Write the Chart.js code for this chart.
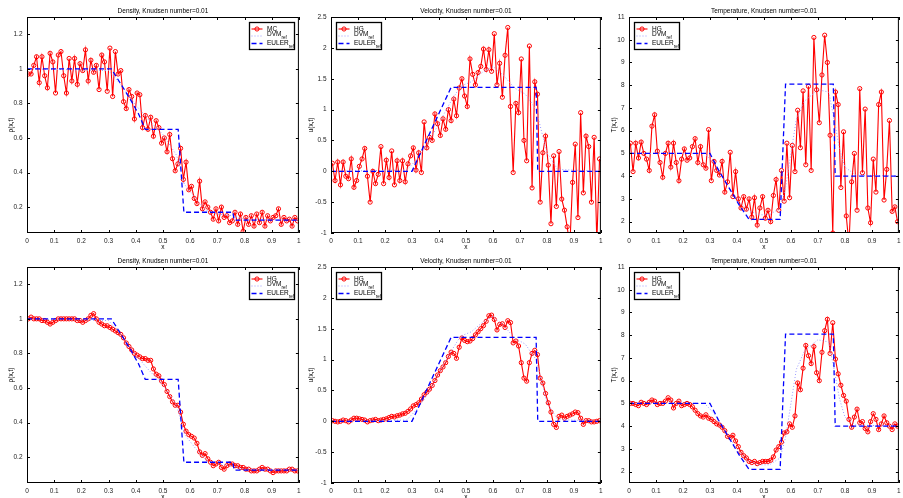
<!DOCTYPE html>
<html>
<head>
<meta charset="utf-8">
<script src="https://cdn.jsdelivr.net/npm/chart.js@4.4.0/dist/chart.umd.min.js"></script>
<style>
  html, body { margin: 0; padding: 0; background: #fff; overflow: hidden; }
  body { width: 903px; height: 498px; position: relative; }
  .panel { position: absolute; height: 252px; }
</style>
</head>
<body>
<div class="panel" style="left:0px;top:0px;width:305px"><canvas id="c1"></canvas></div>
<div class="panel" style="left:305px;top:0px;width:302px"><canvas id="c2"></canvas></div>
<div class="panel" style="left:604px;top:0px;width:301px"><canvas id="c3"></canvas></div>
<div class="panel" style="left:0px;top:250px;width:305px"><canvas id="c4"></canvas></div>
<div class="panel" style="left:305px;top:250px;width:302px"><canvas id="c5"></canvas></div>
<div class="panel" style="left:604px;top:250px;width:301px"><canvas id="c6"></canvas></div>
<script>
// cell centres of the 100-cell grid
const xGrid = [
  0.005, 0.015, 0.025, 0.035, 0.045, 0.055, 0.065, 0.075, 0.085, 0.095,
  0.105, 0.115, 0.125, 0.135, 0.145, 0.155, 0.165, 0.175, 0.185, 0.195,
  0.205, 0.215, 0.225, 0.235, 0.245, 0.255, 0.265, 0.275, 0.285, 0.295,
  0.305, 0.315, 0.325, 0.335, 0.345, 0.355, 0.365, 0.375, 0.385, 0.395,
  0.405, 0.415, 0.425, 0.435, 0.445, 0.455, 0.465, 0.475, 0.485, 0.495,
  0.505, 0.515, 0.525, 0.535, 0.545, 0.555, 0.565, 0.575, 0.585, 0.595,
  0.605, 0.615, 0.625, 0.635, 0.645, 0.655, 0.665, 0.675, 0.685, 0.695,
  0.705, 0.715, 0.725, 0.735, 0.745, 0.755, 0.765, 0.775, 0.785, 0.795,
  0.805, 0.815, 0.825, 0.835, 0.845, 0.855, 0.865, 0.875, 0.885, 0.895,
  0.905, 0.915, 0.925, 0.935, 0.945, 0.955, 0.965, 0.975, 0.985, 0.995
];

// top row: Monte Carlo / noisy HG
const rhoMC = [
  0.97, 0.97, 1.02, 1.07, 0.92, 1.07, 0.96, 0.89, 1.09, 1.04,
  0.86, 1.08, 1.10, 0.96, 0.86, 1.06, 0.93, 1.06, 0.91, 1.03,
  0.99, 1.11, 0.93, 1.05, 0.98, 1.02, 0.88, 1.08, 1.04, 0.87,
  1.12, 0.84, 1.10, 0.97, 0.99, 0.81, 0.77, 0.88, 0.84, 0.71,
  0.86, 0.85, 0.66, 0.73, 0.65, 0.72, 0.61, 0.70, 0.66, 0.57,
  0.60, 0.52, 0.62, 0.48, 0.41, 0.45, 0.54, 0.36, 0.46, 0.30,
  0.32, 0.25, 0.22, 0.35, 0.19, 0.23, 0.20, 0.17, 0.13, 0.19,
  0.12, 0.20, 0.14, 0.15, 0.11, 0.12, 0.17, 0.10, 0.16, 0.06,
  0.14, 0.10, 0.15, 0.09, 0.16, 0.11, 0.17, 0.09, 0.15, 0.12,
  0.14, 0.15, 0.19, 0.10, 0.14, 0.12, 0.13, 0.09, 0.14, 0.12
];
const uHGnoisy = [
  0.13, -0.15, 0.15, -0.22, 0.15, -0.08, -0.12, 0.20, -0.26, -0.15,
  0.08, 0.20, 0.37, -0.08, -0.50, 0.00, -0.20, -0.05, 0.40, -0.20,
  0.18, -0.10, 0.33, -0.22, 0.17, -0.15, 0.17, -0.17, 0.12, 0.25,
  0.38, 0.02, 0.30, -0.02, 0.80, 0.38, 0.55, 0.50, 0.93, 0.77,
  0.58, 0.85, 0.68, 1.00, 0.82, 1.17, 0.90, 1.35, 1.50, 1.22,
  1.05, 1.82, 1.57, 1.40, 1.60, 1.70, 1.98, 1.65, 1.97, 1.62,
  2.23, 1.40, 1.75, 1.20, 1.88, 2.33, 1.05, -0.02, 1.10, 0.95,
  1.82, 0.50, 0.17, 2.03, -0.27, 1.45, 1.25, -0.50, 0.30, 0.57,
  0.10, -0.85, 0.25, -0.57, 0.32, -0.45, -0.63, -0.90, -1.20, -0.18,
  0.44, -0.75, 0.95, -0.35, 0.57, 0.40, -0.50, 0.55, -1.15, 0.20
];
const tHGnoisy = [
  5.45, 4.20, 5.45, 4.80, 5.50, 5.00, 4.75, 4.25, 6.20, 6.70,
  5.10, 4.60, 3.95, 5.00, 5.45, 4.40, 5.45, 4.60, 3.80, 4.75,
  5.20, 4.70, 4.80, 5.30, 5.65, 4.60, 5.30, 4.50, 4.35, 6.05,
  3.80, 4.65, 4.25, 4.05, 4.65, 3.30, 3.75, 5.05, 3.10, 4.20,
  3.00, 2.60, 3.10, 2.55, 3.00, 2.20, 3.05, 1.85, 2.60, 3.10,
  2.15, 2.50, 2.00, 3.15, 3.85, 2.50, 4.25, 2.90, 5.45, 3.05,
  5.35, 4.20, 6.90, 5.25, 7.75, 4.50, 7.95, 4.25, 10.10, 7.80,
  6.35, 8.45, 10.20, 9.00, 5.80, 1.50, 7.70, 7.15, 3.50, 5.95,
  2.25, 1.00, 3.75, 5.00, 2.50, 7.85, 4.15, 6.95, 2.60, 1.95,
  4.75, 3.30, 7.15, 7.70, 2.95, 4.30, 6.45, 2.45, 2.65, 2.00
];

// bottom row: smoothed HG
const rhoHG = [
  1.00, 1.01, 1.00, 1.00, 1.00, 0.99, 0.99, 0.98, 0.97, 0.98,
  0.99, 1.00, 1.00, 1.00, 1.00, 1.00, 1.00, 1.00, 0.99, 0.99,
  0.98, 0.99, 1.00, 1.02, 1.03, 1.00, 0.98, 0.97, 0.96, 0.96,
  0.95, 0.94, 0.93, 0.92, 0.91, 0.89, 0.86, 0.84, 0.82, 0.80,
  0.79, 0.78, 0.77, 0.77, 0.76, 0.76, 0.71, 0.68, 0.67, 0.64,
  0.62, 0.58, 0.55, 0.52, 0.50, 0.50, 0.46, 0.39, 0.35, 0.33,
  0.32, 0.31, 0.28, 0.23, 0.21, 0.22, 0.19, 0.17, 0.15, 0.16,
  0.17, 0.14, 0.13, 0.15, 0.16, 0.16, 0.15, 0.15, 0.14, 0.14,
  0.13, 0.13, 0.12, 0.12, 0.12, 0.13, 0.14, 0.13, 0.13, 0.12,
  0.11, 0.12, 0.12, 0.12, 0.12, 0.12, 0.13, 0.13, 0.12, 0.12
];
const uHG = [
  0.01, 0.00, -0.01, 0.00, 0.02, 0.01, -0.01, 0.02, 0.05, 0.05,
  0.04, 0.03, 0.02, -0.01, 0.01, 0.02, 0.03, 0.01, 0.02, 0.03,
  0.04, 0.06, 0.08, 0.07, 0.09, 0.10, 0.12, 0.13, 0.16, 0.20,
  0.25, 0.27, 0.30, 0.36, 0.43, 0.47, 0.52, 0.58, 0.66, 0.75,
  0.82, 0.88, 0.95, 1.05, 1.12, 1.10, 1.02, 1.20, 1.35, 1.31,
  1.29, 1.30, 1.34, 1.40, 1.45, 1.50, 1.55, 1.62, 1.71, 1.72,
  1.65, 1.48, 1.57, 1.58, 1.52, 1.63, 1.60, 1.27, 1.30, 1.22,
  0.95, 0.70, 0.65, 0.95, 1.10, 1.15, 1.08, 0.70, 0.62, 0.45,
  0.30, 0.15, -0.05, -0.10, 0.08, 0.10, 0.05, 0.08, 0.10, 0.12,
  0.15, 0.14, 0.05, -0.05, 0.01, 0.01, -0.01, -0.01, 0.00, 0.01
];
const tHG = [
  5.00, 5.00, 4.95, 4.90, 5.05, 5.00, 4.95, 5.05, 5.15, 5.10,
  4.95, 5.00, 5.00, 5.10, 5.25, 5.15, 4.80, 5.00, 5.10, 4.90,
  4.95, 5.00, 4.95, 4.85, 4.70, 4.55, 4.45, 4.40, 4.50, 4.35,
  4.30, 4.20, 4.10, 4.05, 3.95, 3.80, 3.55, 3.50, 3.60, 3.35,
  3.10, 2.85, 2.70, 2.60, 2.45, 2.40, 2.45, 2.35, 2.40, 2.45,
  2.45, 2.45, 2.50, 2.65, 2.95, 3.10, 3.30, 3.70, 3.75, 4.10,
  3.95, 4.45, 5.90, 5.60, 6.55, 7.55, 7.10, 6.75, 7.50, 6.35,
  6.00, 7.25, 8.20, 8.70, 7.20, 8.55, 6.95, 6.30, 5.80, 5.35,
  5.10, 4.30, 3.95, 4.40, 4.75, 4.15, 4.20, 3.90, 3.75, 4.20,
  4.55, 4.30, 3.85, 4.10, 4.45, 4.15, 4.00, 3.85, 4.10, 4.00
];

// reference solutions
const dvmRhoX = [0, 0.30, 0.35, 0.40, 0.45, 0.50, 0.55, 0.58, 0.62, 0.66, 0.70, 0.76, 0.80, 1];
const dvmRhoY = [1, 0.99, 0.90, 0.79, 0.70, 0.62, 0.50, 0.33, 0.25, 0.18, 0.16, 0.15, 0.13, 0.125];
const dvmUX = [0, 0.28, 0.32, 0.36, 0.40, 0.44, 0.48, 0.52, 0.56, 0.60, 0.64, 0.68, 0.72, 0.76, 0.80, 0.84, 1];
const dvmUY = [0, 0.02, 0.20, 0.45, 0.78, 1.10, 1.38, 1.45, 1.60, 1.70, 1.55, 1.35, 1.25, 1.00, 0.30, 0.03, 0];
const dvmTX = [0, 0.28, 0.32, 0.36, 0.40, 0.44, 0.48, 0.52, 0.56, 0.58, 0.60, 0.62, 0.65, 0.70, 0.74, 0.76, 0.78, 0.80, 0.84, 1];
const dvmTY = [5, 5, 4.5, 3.7, 3.0, 2.5, 2.3, 2.3, 2.6, 3.5, 5.0, 6.5, 7.3, 7.8, 7.7, 6.5, 5.2, 4.4, 4.05, 4];

const eulerRhoX = [0, 0.31, 0.35, 0.385, 0.41, 0.435, 0.556, 0.577, 0.757, 0.762, 1];
const eulerRhoY = [1, 1, 0.90, 0.81, 0.74, 0.65, 0.65, 0.17, 0.17, 0.125, 0.125];
const eulerUX = [0, 0.30, 0.445, 0.760, 0.766, 1];
const eulerUY = [0, 0, 1.36, 1.36, 0, 0];
const eulerTX = [0, 0.30, 0.33, 0.37, 0.41, 0.445, 0.560, 0.580, 0.757, 0.764, 1];
const eulerTY = [5, 5, 4.3, 3.5, 2.7, 2.1, 2.1, 8.05, 8.05, 4, 4];

// axes
const xTicks = [0, 0.1, 0.2, 0.3, 0.4, 0.5, 0.6, 0.7, 0.8, 0.9, 1];
const rhoTicks = [0.2, 0.4, 0.6, 0.8, 1, 1.2];
const uTicks = [-1, -0.5, 0, 0.5, 1, 1.5, 2, 2.5];
const tTicks = [2, 3, 4, 5, 6, 7, 8, 9, 10, 11];

const titles = ['Density, Knudsen number=0.01', 'Velocity, Knudsen number=0.01', 'Temperature, Knudsen number=0.01'];
const yNames = ['\u03c1(x,t)', 'u(x,t)', 'T(x,t)'];

const FONT = 'Liberation Sans, Arial, Helvetica, sans-serif';

function pairs(xs, ys) {
  return xs.map((x, i) => ({ x: x, y: ys[i] }));
}

// MATLAB-style box, inward ticks and legend
const matlabFrame = {
  id: 'matlabFrame',
  afterDatasetsDraw(chart, args, opts) {
    const { ctx, chartArea: a, scales: { x, y } } = chart;
    ctx.save();
    ctx.strokeStyle = '#000';
    ctx.lineWidth = 1;
    ctx.setLineDash([]);
    ctx.strokeRect(a.left + 0.5, a.top + 0.5, a.width - 1, a.height - 1);
    ctx.beginPath();
    x.ticks.forEach(t => {
      const px = Math.round(x.getPixelForValue(t.value)) + 0.5;
      ctx.moveTo(px, a.bottom); ctx.lineTo(px, a.bottom - 3);
      ctx.moveTo(px, a.top); ctx.lineTo(px, a.top + 3);
    });
    y.ticks.forEach(t => {
      const py = Math.round(y.getPixelForValue(t.value)) + 0.5;
      ctx.moveTo(a.left, py); ctx.lineTo(a.left + 3, py);
      ctx.moveTo(a.right, py); ctx.lineTo(a.right - 3, py);
    });
    ctx.stroke();

    // legend
    const w = 45, h = 27;
    const bx = Math.round(opts.side === 'right' ? a.right - 5 - w : a.left + 5) + 0.5;
    const by = Math.round(a.top + 5) + 0.5;
    ctx.fillStyle = '#fff';
    ctx.fillRect(bx, by, w, h);
    ctx.lineWidth = 1.3;
    ctx.strokeRect(bx, by, w, h);
    const rows = [6.5, 13.5, 21];
    const textRows = [6.5, 11.5, 20.5];
    chart.data.datasets.forEach((ds, i) => {
      const ly = by + rows[i];
      ctx.beginPath();
      ctx.strokeStyle = ds.borderColor;
      ctx.lineWidth = ds.borderWidth;
      ctx.setLineDash(ds.borderDash || []);
      ctx.moveTo(bx + 2, ly);
      ctx.lineTo(bx + 13, ly);
      ctx.stroke();
      ctx.setLineDash([]);
      if (ds.pointRadius) {
        ctx.beginPath();
        ctx.lineWidth = ds.pointBorderWidth;
        ctx.arc(bx + 7.5, ly, ds.pointRadius, 0, Math.PI * 2);
        ctx.stroke();
      }
      ctx.fillStyle = '#000';
      ctx.textAlign = 'left';
      ctx.textBaseline = 'middle';
      ctx.font = '6.5px ' + FONT;
      const ty = by + textRows[i];
      ctx.fillText(ds.label, bx + 17.5, ty);
      if (ds.sub) {
        const tw = ctx.measureText(ds.label).width;
        ctx.font = '4.5px ' + FONT;
        ctx.fillText(ds.sub, bx + 17.5 + tw, ty + 3.3);
      }
    });
    ctx.restore();
  }
};

function makePanel(id, opt) {
  const padL = opt.padL;
  return new Chart(document.getElementById(id), {
    type: 'line',
    data: {
      datasets: [
        {
          label: opt.name,
          data: pairs(xGrid, opt.values),
          borderColor: '#ff0000',
          borderWidth: 1.1,
          pointRadius: 2.1,
          pointBorderWidth: 1,
          pointBorderColor: '#ff0000',
          pointBackgroundColor: 'rgba(0,0,0,0)',
          tension: 0,
          order: 3
        },
        {
          label: 'DVM',
          sub: 'ref',
          data: pairs(opt.dvmX, opt.dvmY),
          borderColor: '#9a9aff',
          borderWidth: 1,
          borderDash: [1, 2],
          pointRadius: 0,
          tension: 0,
          order: 2
        },
        {
          label: 'EULER',
          sub: 'ref',
          data: pairs(opt.eulX, opt.eulY),
          borderColor: '#0000ff',
          borderWidth: 1.3,
          borderDash: [5, 3],
          pointRadius: 0,
          tension: 0,
          order: 1
        }
      ]
    },
    options: {
      responsive: true,
      maintainAspectRatio: false,
      animation: false,
      events: [],
      layout: { autoPadding: false, padding: { top: 0, right: 3, left: 0, bottom: 0 } },
      plugins: {
        legend: { display: false },
        tooltip: { enabled: false },
        title: {
          display: true,
          text: opt.title,
          fullSize: false,
          color: '#000',
          font: { family: FONT, size: 6.5, weight: 'normal', lineHeight: 1.2 },
          padding: { top: 7, bottom: 2.2 }
        },
        matlabFrame: { side: opt.legendSide }
      },
      scales: {
        x: {
          type: 'linear',
          min: 0,
          max: 1,
          grid: { display: false, drawTicks: false },
          border: { display: false },
          afterBuildTicks: s => { s.ticks = xTicks.map(v => ({ value: v })); },
          afterFit: s => { s.height = 19; },
          ticks: {
            color: '#222',
            padding: 4.3,
            maxRotation: 0,
            autoSkip: false,
            font: { family: FONT, size: 6.5 },
            callback: v => String(v)
          },
          title: {
            display: true,
            text: 'x',
            color: '#000',
            font: { family: FONT, size: 6.5 },
            padding: { top: 0, bottom: 1 }
          }
        },
        y: {
          type: 'linear',
          min: opt.yMin,
          max: opt.yMax,
          grid: { display: false, drawTicks: false },
          border: { display: false },
          afterBuildTicks: s => { s.ticks = opt.yTicks.map(v => ({ value: v })); },
          afterFit: s => { s.width = padL; },
          ticks: {
            color: '#222',
            padding: 4.5,
            autoSkip: false,
            font: { family: FONT, size: 6.5 },
            callback: v => String(v)
          },
          title: {
            display: true,
            text: opt.yName,
            color: '#000',
            font: { family: FONT, size: 6.5 },
            padding: { top: opt.yTitlePad, bottom: 0 }
          }
        }
      }
    },
    plugins: [matlabFrame]
  });
}

const cols = [
  { padL: 27, yTitlePad: 7.1, yMin: 0.05, yMax: 1.3, yTicks: rhoTicks, legendSide: 'right',
    dvmX: dvmRhoX, dvmY: dvmRhoY, eulX: eulerRhoX, eulY: eulerRhoY },
  { padL: 26, yTitlePad: 2.1, yMin: -1, yMax: 2.5, yTicks: uTicks, legendSide: 'left',
    dvmX: dvmUX, dvmY: dvmUY, eulX: eulerUX, eulY: eulerUY },
  { padL: 25, yTitlePad: 6.1, yMin: 1.5, yMax: 11, yTicks: tTicks, legendSide: 'left',
    dvmX: dvmTX, dvmY: dvmTY, eulX: eulerTX, eulY: eulerTY }
];
const topValues = [rhoMC, uHGnoisy, tHGnoisy];
const topNames = ['MC', 'HG', 'HG'];
const bottomValues = [rhoHG, uHG, tHG];

cols.forEach((c, i) => {
  makePanel('c' + (i + 1), Object.assign({}, c, {
    title: titles[i], yName: yNames[i], values: topValues[i], name: topNames[i]
  }));
  makePanel('c' + (i + 4), Object.assign({}, c, {
    title: titles[i], yName: yNames[i], values: bottomValues[i], name: 'HG'
  }));
});
</script>
</body>
</html>
